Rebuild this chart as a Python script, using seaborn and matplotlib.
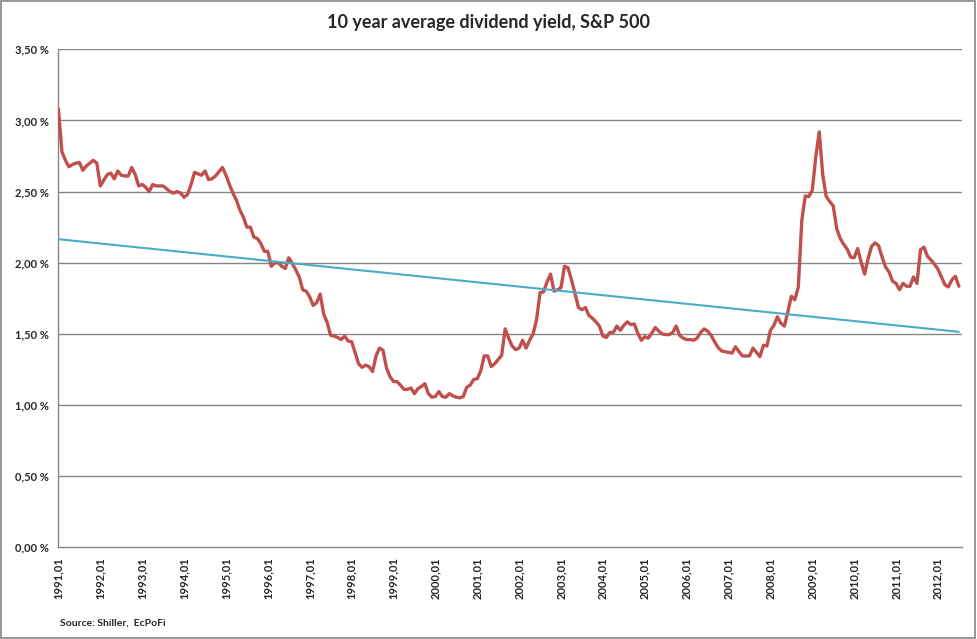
import matplotlib
matplotlib.use("Agg")
import matplotlib.pyplot as plt
import numpy as np
import pandas as pd
import seaborn as sns
from matplotlib.patches import Rectangle

# monthly 10 year average dividend yield, %, starting 1991,01
yield_pct = [
    3.08, 2.78, 2.72, 2.675, 2.69, 2.70, 2.705, 2.65, 2.68, 2.70, 2.72, 2.70,
    2.54, 2.58, 2.62, 2.63, 2.59, 2.645, 2.615, 2.61, 2.61, 2.67, 2.62, 2.54,
    2.55, 2.53, 2.50, 2.55, 2.54, 2.54, 2.54, 2.52, 2.50, 2.49, 2.50, 2.49,
    2.46, 2.48, 2.55, 2.635, 2.625, 2.615, 2.645, 2.585, 2.59, 2.61, 2.64, 2.67,
    2.615, 2.55, 2.49, 2.44, 2.37, 2.32, 2.25, 2.25, 2.18, 2.17, 2.135, 2.08,
    2.08, 1.975, 2.00, 2.00, 1.975, 1.96, 2.035, 1.995, 1.95, 1.90, 1.81, 1.80,
    1.76, 1.70, 1.72, 1.78, 1.64, 1.58, 1.49, 1.485, 1.475, 1.46, 1.485, 1.45,
    1.445, 1.37, 1.29, 1.265, 1.28, 1.27, 1.235, 1.345, 1.40, 1.385, 1.26, 1.20,
    1.165, 1.165, 1.14, 1.11, 1.11, 1.12, 1.08, 1.115, 1.13, 1.15, 1.08, 1.055,
    1.06, 1.095, 1.06, 1.055, 1.08, 1.065, 1.055, 1.05, 1.06, 1.125, 1.14, 1.18,
    1.185, 1.24, 1.345, 1.345, 1.27, 1.29, 1.32, 1.35, 1.535, 1.47, 1.415, 1.39,
    1.40, 1.455, 1.40, 1.455, 1.50, 1.60, 1.79, 1.795, 1.865, 1.92, 1.80, 1.81,
    1.825, 1.975, 1.965, 1.88, 1.785, 1.685, 1.67, 1.685, 1.63, 1.61, 1.585, 1.555,
    1.485, 1.475, 1.51, 1.51, 1.555, 1.525, 1.56, 1.585, 1.565, 1.57, 1.505, 1.455,
    1.48, 1.47, 1.505, 1.545, 1.52, 1.50, 1.495, 1.495, 1.51, 1.555, 1.49, 1.47,
    1.46, 1.46, 1.455, 1.47, 1.51, 1.535, 1.52, 1.49, 1.445, 1.405, 1.38, 1.375,
    1.37, 1.365, 1.41, 1.375, 1.345, 1.345, 1.345, 1.40, 1.37, 1.34, 1.42, 1.415,
    1.525, 1.56, 1.62, 1.575, 1.555, 1.655, 1.765, 1.74, 1.83, 2.30, 2.47, 2.465,
    2.51, 2.745, 2.92, 2.615, 2.465, 2.43, 2.40, 2.24, 2.17, 2.13, 2.095, 2.04,
    2.035, 2.10, 2.005, 1.92, 2.03, 2.115, 2.14, 2.12, 2.04, 1.97, 1.935, 1.87,
    1.855, 1.81, 1.855, 1.835, 1.835, 1.90, 1.855, 2.09, 2.11, 2.045, 2.02, 1.99,
    1.955, 1.90, 1.845, 1.83, 1.88, 1.905, 1.835,
]
years = list(range(1991, 2013))
tick_labels = [f"{y},01" for y in years]
y_ticks = [0.0, 0.5, 1.0, 1.5, 2.0, 2.5, 3.0, 3.5]

df = pd.DataFrame({"month": np.arange(len(yield_pct)), "yield": yield_pct})

sns.set_style("white")
plt.rcParams["font.family"] = ["Lato", "DejaVu Sans"]

fig = plt.figure(figsize=(9.77, 6.39), dpi=100)
ax = fig.add_axes([0.0598, 0.1435, 0.9245, 0.7793])

for v in y_ticks[1:]:
    ax.axhline(v, color="#868686", linewidth=1.0, zorder=0)

sns.lineplot(data=df, x="month", y="yield", color="#C0504D", linewidth=2.4, ax=ax, zorder=3)
sns.regplot(data=df, x="month", y="yield", scatter=False, ci=None, truncate=True,
            line_kws={"color": "#4BACC6", "linewidth": 1.5, "zorder": 4}, ax=ax)

ax.set_xlim(0, 258.8)
ax.set_ylim(0, 3.5)
ax.set_xlabel("")
ax.set_ylabel("")
ax.set_yticks(y_ticks)
ax.set_yticklabels([f"{v:.2f} %".replace(".", ",") for v in y_ticks], fontsize=8, fontweight="bold")
ax.set_xticks([12 * i for i in range(len(years))])
ax.set_xticklabels(tick_labels, rotation=90, fontsize=8, fontweight="bold")
ax.tick_params(axis="both", which="both", length=4, width=1, color="#868686", direction="out", pad=3)

for side in ("top", "right"):
    ax.spines[side].set_visible(False)
for side in ("left", "bottom"):
    ax.spines[side].set_color("#868686")
    ax.spines[side].set_linewidth(1.0)

fig.text(0.5, 0.965, "10 year average dividend yield, S&P 500", ha="center", va="center",
         fontsize=13, fontweight="bold")
fig.text(0.061, 0.025, "Source: Shiller,  EcPoFi", ha="left", va="center",
         fontsize=7.5, fontweight="bold")

fig.patches.append(Rectangle((0.001, 0.001), 0.997, 0.997, transform=fig.transFigure,
                             fill=False, edgecolor="#868686", linewidth=1.2))

fig.savefig("out.png", dpi=100)
